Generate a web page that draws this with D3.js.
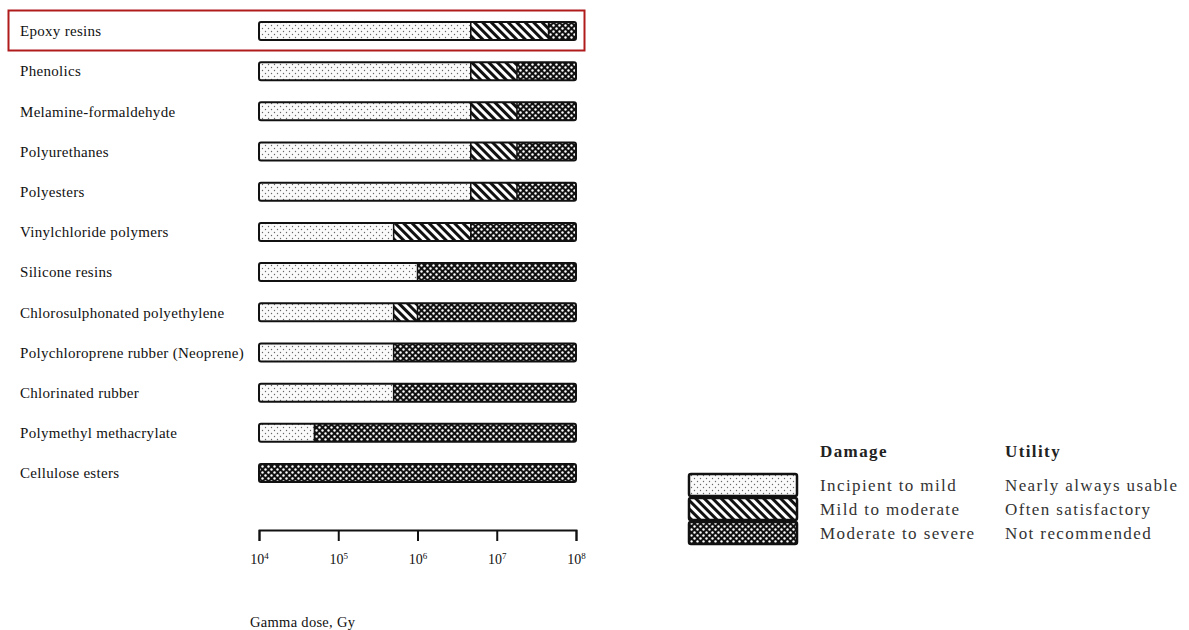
<!DOCTYPE html>
<html><head><meta charset="utf-8">
<script src="https://cdn.jsdelivr.net/npm/d3@7"></script>
<style>
html,body{margin:0;padding:0;background:#fff;}
svg{display:block;font-family:"Liberation Serif","DejaVu Serif",serif;}
</style></head>
<body>
<svg id="chart" width="1189" height="630"></svg>
<script>
const materials = ["Epoxy resins","Phenolics","Melamine-formaldehyde","Polyurethanes","Polyesters",
  "Vinylchloride polymers","Silicone resins","Chlorosulphonated polyethylene",
  "Polychloroprene rubber (Neoprene)","Chlorinated rubber","Polymethyl methacrylate","Cellulose esters"];
// dose (Gy) where each damage band ends
const incipientEnd = [4.7e6,4.7e6,4.7e6,4.7e6,4.7e6,5e5,1e6,5e5,5e5,5e5,5e4,1e4];
const moderateEnd  = [4.5e7,1.8e7,1.8e7,1.8e7,1.8e7,4.7e6,1e6,1e6,5e5,5e5,5e4,1e4];
const severeEnd    = [1e8,1e8,1e8,1e8,1e8,1e8,1e8,1e8,1e8,1e8,1e8,1e8];
const doseStart = 1e4;
const tickValues = [1e4,1e5,1e6,1e7,1e8];
const tickExponents = ["4","5","6","7","8"];
const damageLabels = ["Incipient to mild","Mild to moderate","Moderate to severe"];
const utilityLabels = ["Nearly always usable","Often satisfactory","Not recommended"];

const svg = d3.select("#chart");
const defs = svg.append("defs");

// patterns
const pDots = defs.append("pattern").attr("id","pDots").attr("patternUnits","userSpaceOnUse")
  .attr("width",6).attr("height",6);
pDots.append("rect").attr("width",6).attr("height",6).attr("fill","#fafafa");
pDots.append("circle").attr("cx",1.5).attr("cy",1.5).attr("r",0.7).attr("fill","#666");
pDots.append("circle").attr("cx",4.5).attr("cy",4.5).attr("r",0.7).attr("fill","#666");

const pHatch = defs.append("pattern").attr("id","pHatch").attr("patternUnits","userSpaceOnUse")
  .attr("width",6).attr("height",6).attr("patternTransform","rotate(-45)");
pHatch.append("rect").attr("width",6).attr("height",6).attr("fill","#fff");
pHatch.append("rect").attr("x",0).attr("width",3).attr("height",6).attr("fill","#111");

const pDense = defs.append("pattern").attr("id","pDense").attr("patternUnits","userSpaceOnUse")
  .attr("width",6).attr("height",6);
pDense.append("rect").attr("width",6).attr("height",6).attr("fill","#111");
pDense.append("circle").attr("cx",1.5).attr("cy",1.5).attr("r",1.2).attr("fill","#fff");
pDense.append("circle").attr("cx",4.5).attr("cy",4.5).attr("r",1.2).attr("fill","#fff");

const fills = ["url(#pDots)","url(#pHatch)","url(#pDense)"];

const x = d3.scaleLog().domain([1e4,1e8]).range([259,576]);
const y = d3.scalePoint().domain(materials).range([31,473]);
const barH = 18;

// highlight box around first row
svg.append("rect").attr("x",8.5).attr("y",y(materials[0])-20.5).attr("width",576).attr("height",40)
  .attr("fill","none").attr("stroke","#b01c1c").attr("stroke-width",2);

// labels
svg.append("g").selectAll("text").data(materials).join("text")
  .attr("x",20).attr("y",d=>y(d)).attr("dy","0.35em")
  .attr("font-size",15).attr("letter-spacing",0.3).attr("fill","#111").text(d=>d);

// bars
const rows = materials.map((m,i)=>({m, segs:[
  {a:doseStart,b:incipientEnd[i],k:0},
  {a:incipientEnd[i],b:moderateEnd[i],k:1},
  {a:moderateEnd[i],b:severeEnd[i],k:2}].filter(s=>s.b>s.a)}));

const g = svg.append("g").selectAll("g").data(rows).join("g");
g.selectAll("rect.seg").data(d=>d.segs.map(s=>({...s,m:d.m}))).join("rect")
  .attr("class","seg")
  .attr("x",s=>x(s.a)).attr("width",s=>x(s.b)-x(s.a))
  .attr("y",s=>y(s.m)-barH/2).attr("height",barH)
  .attr("fill",s=>fills[s.k]);
g.selectAll("line.div").data(d=>d.segs.slice(1).map(s=>({...s,m:d.m}))).join("line")
  .attr("class","div")
  .attr("x1",s=>x(s.a)).attr("x2",s=>x(s.a))
  .attr("y1",s=>y(s.m)-barH/2).attr("y2",s=>y(s.m)+barH/2)
  .attr("stroke","#111").attr("stroke-width",1.5);
g.append("rect")
  .attr("x",x(doseStart)).attr("width",d=>x(severeEnd[materials.indexOf(d.m)])-x(doseStart))
  .attr("y",d=>y(d.m)-barH/2).attr("height",barH).attr("rx",2)
  .attr("fill","none").attr("stroke","#111").attr("stroke-width",2);

// axis
const axis = d3.axisBottom(x).tickValues(tickValues).tickSize(11).tickSizeOuter(11).tickPadding(8)
  .tickFormat(()=> "");
const ax = svg.append("g").attr("transform","translate(0,530)").call(axis);
ax.select(".domain").attr("stroke","#111").attr("stroke-width",1.8);
ax.selectAll(".tick line").attr("stroke","#111").attr("stroke-width",2);
ax.selectAll(".tick text").each(function(d,i){
  const t = d3.select(this).attr("font-family","Liberation Serif, serif").attr("font-size",14).attr("fill","#111").attr("dy","1.1em");
  t.append("tspan").text("10");
  t.append("tspan").attr("font-size",9).attr("dy","-0.6em").text(tickExponents[i]);
});

svg.append("text").attr("x",250).attr("y",627).attr("font-size",14.5).attr("letter-spacing",0.3).attr("fill","#111").text("Gamma dose, Gy");

// legend
const lg = svg.append("g").attr("font-size",17).attr("letter-spacing",1.4);
lg.append("text").attr("x",820).attr("y",457).attr("font-weight","bold").attr("fill","#222").text("Damage");
lg.append("text").attr("x",1005).attr("y",457).attr("font-weight","bold").attr("fill","#222").text("Utility");
const ly = d3.scaleBand().domain(d3.range(3)).range([473,545]);
lg.selectAll("rect.sw").data(d3.range(3)).join("rect").attr("class","sw")
  .attr("x",689).attr("width",108).attr("y",i=>ly(i)+1).attr("height",ly.bandwidth()-2).attr("rx",2)
  .attr("fill",i=>fills[i]).attr("stroke","#111").attr("stroke-width",2.5);
lg.selectAll("text.dl").data(damageLabels).join("text").attr("class","dl")
  .attr("x",820).attr("y",(d,i)=>ly(i)+ly.bandwidth()/2).attr("dy","0.35em")
  .attr("fill","#333").text(d=>d);
lg.selectAll("text.ul").data(utilityLabels).join("text").attr("class","ul")
  .attr("x",1005).attr("y",(d,i)=>ly(i)+ly.bandwidth()/2).attr("dy","0.35em")
  .attr("fill","#333").text(d=>d);
</script>
</body></html>
